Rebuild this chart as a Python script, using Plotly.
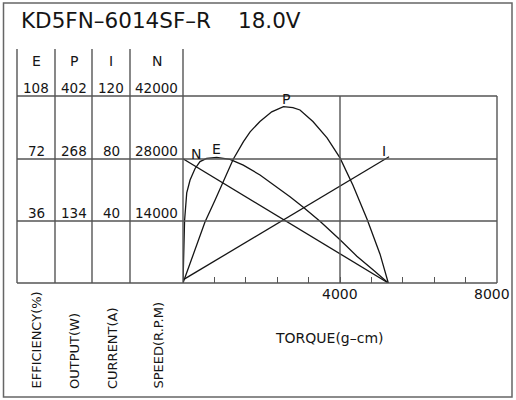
import plotly.graph_objects as go

# motor curve data (torque in g-cm)
title_model = "KD5FN–6014SF–R"
title_voltage = "18.0V"

torque_n = [0, 5230]
speed_rpm = [27900, 0]

torque_i = [0, 5250]
current_a = [2.0, 81]

torque_e = [0, 15, 40, 95, 180, 305, 433, 603, 858, 1198, 1536, 1962, 2387,
            2726, 3065, 3490, 4000, 4430, 4840, 5230]
efficiency = [0, 18, 36, 52, 59.5, 66.0, 70.1, 72.0, 72.6, 71.4, 68.1, 62.4,
              55.6, 49.8, 43.8, 35.6, 25.0, 15.5, 7.6, 0]

torque_p = [0, 300, 560, 815, 1030, 1280, 1540, 1710, 1960, 2260, 2560, 2800,
            2980, 3310, 3670, 4000, 4330, 4690, 5020, 5230]
output_w = [0, 70, 131, 178, 218, 266, 304, 325, 347, 368, 379, 377, 372,
            347, 312, 269, 210, 137, 62, 0]

# left-hand scale table
col_heads = ["E", "P", "I", "N"]
row_values = [
    ["108", "402", "120", "42000"],
    ["72", "268", "80", "28000"],
    ["36", "134", "40", "14000"],
]
axis_names = ["EFFICIENCY(%)", "OUTPUT(W)", "CURRENT(A)", "SPEED(R.P.M)"]
x_tick_labels = ["4000", "8000"]
x_label = "TORQUE(g–cm)"

W, H = 516, 400
X0, X1 = 183, 497   # torque 0 .. 8000 in pixels
Y0, Y1 = 283, 96    # bottom / top of the grid in pixels
col_x = [17, 55, 92, 130, 183]
row_y = [96, 159, 221, 283]
TABLE_TOP = 49

GRID = "#555555"
INK = "#151515"
FONT = "DejaVu Sans"


def px(x):
    return x / W


def py(y):
    return 1 - y / H


fig = go.Figure()
curve = dict(color=INK, width=1.3)
fig.add_trace(go.Scatter(x=torque_n, y=speed_rpm, mode="lines", line=curve, yaxis="y"))
fig.add_trace(go.Scatter(x=torque_e, y=efficiency, mode="lines", line=curve, yaxis="y2"))
fig.add_trace(go.Scatter(x=torque_p, y=output_w, mode="lines", line=curve, yaxis="y3"))
fig.add_trace(go.Scatter(x=torque_i, y=current_a, mode="lines", line=curve, yaxis="y4"))

shapes = []


def seg(x0, y0, x1, y1, color=GRID, width=1.4):
    shapes.append(dict(type="line", xref="paper", yref="paper",
                       x0=px(x0), y0=py(y0), x1=px(x1), y1=py(y1),
                       line=dict(color=color, width=width)))


# outer frame
shapes.append(dict(type="rect", xref="paper", yref="paper",
                   x0=px(3.5), y0=py(397), x1=px(512), y1=py(3),
                   line=dict(color="#666666", width=1.5)))
for y in row_y:
    seg(col_x[0], y, X1, y)
for x in col_x:
    seg(x, TABLE_TOP, x, Y0)
seg(X1, Y1, X1, Y0)
seg(X0 + (X1 - X0) / 2, Y1, X0 + (X1 - X0) / 2, Y0)

annotations = []


def label(text, x, y, size=13.5, xanchor="center", yanchor="middle", angle=0):
    annotations.append(dict(text=text, x=px(x), y=py(y), xref="paper", yref="paper",
                            showarrow=False, xanchor=xanchor, yanchor=yanchor,
                            textangle=angle, font=dict(family=FONT, size=size, color=INK)))


label(title_model, 19, 20, size=21.5, xanchor="left")
label(title_voltage, 236, 20, size=21.5, xanchor="left")

centers = [(col_x[i] + col_x[i + 1]) / 2 for i in range(4)]
for c, head in zip(centers, col_heads):
    label(head, c, 61, size=14)
for r, vals in zip(row_y, row_values):
    for c, v in zip(centers, vals):
        label(v, c, r - 8, size=13.5)

name_x = [36, 74, 112, 158]
for x, name in zip(name_x, axis_names):
    label(name, x, 391, size=13, yanchor="bottom", angle=-90)

label(x_tick_labels[0], 340, 294, size=14)
label(x_tick_labels[1], 492, 294, size=14)
label(x_label, 329, 338, size=14)

# curve letters
label("N", 196, 154, size=14)
label("E", 216, 149, size=14)
label("P", 286, 99, size=14)
label("I", 384, 151, size=14)

hidden = dict(visible=False, fixedrange=True, domain=[py(Y0), py(Y1)])
fig.update_layout(
    width=W,
    height=H,
    margin=dict(l=0, r=0, t=0, b=0),
    paper_bgcolor="white",
    plot_bgcolor="white",
    showlegend=False,
    xaxis=dict(domain=[px(X0), px(X1)], range=[0, 8000], showgrid=False,
               zeroline=False, showline=False, ticks="inside", ticklen=6,
               tickwidth=1.3, tickcolor=GRID,
               tickvals=[800 * k for k in range(1, 10)],
               showticklabels=False, fixedrange=True),
    yaxis=dict(range=[0, 42000], **hidden),
    yaxis2=dict(range=[0, 108], overlaying="y", **hidden),
    yaxis3=dict(range=[0, 402], overlaying="y", **hidden),
    yaxis4=dict(range=[0, 120], overlaying="y", **hidden),
    shapes=shapes,
    annotations=annotations,
)

# the page body has a default margin; drop it so the figure fills the window
fig.write_html("out.html", config={"displayModeBar": False},
               post_script="document.body.style.margin = '0';")
